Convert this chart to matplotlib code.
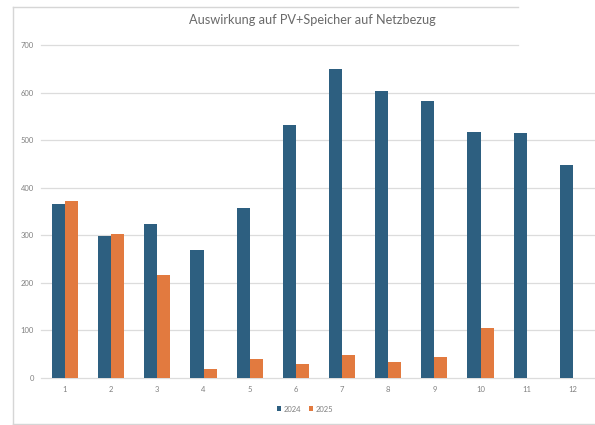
import matplotlib.pyplot as plt
from matplotlib.lines import Line2D
import numpy as np

monate = [str(m) for m in range(1, 13)]
netzbezug_2024 = [365, 298, 323, 269, 357, 532, 650, 604, 583, 517, 515, 447]
netzbezug_2025 = [373, 302, 216, 18, 40, 30, 48, 34, 45, 105, 0, 0]
y_ticks = [0, 100, 200, 300, 400, 500, 600, 700]

blau = "#2d5f80"
orange = "#e27a3f"
grau = "#808080"

plt.rcParams['font.family'] = ['Lato', 'DejaVu Sans']

fig = plt.figure(figsize=(5.95, 4.25), dpi=100)
ax = fig.add_axes([41 / 595, 47 / 425, 554 / 595, 333 / 425])

x = np.arange(len(monate))
w = 0.285
ax.bar(x - w / 2, netzbezug_2024, w, color=blau, label="2024", zorder=3)
ax.bar(x + w / 2, netzbezug_2025, w, color=orange, label="2025", zorder=3)

ax.set_xlim(-0.52, 11.48)
ax.set_ylim(0, 700)
ax.set_yticks(y_ticks)
ax.set_xticks(x)
ax.set_xticklabels(monate)

# Gitternetz, die oberste Linie ist kürzer
for t in y_ticks:
    xmax = (518 - 41) / 554 if t == 700 else 1.0
    ax.axhline(t, xmin=0, xmax=xmax, color="#dcdcdc", lw=0.9, zorder=1, clip_on=False)

for s in ax.spines.values():
    s.set_visible(False)
ax.tick_params(length=0, labelsize=5.5, labelcolor=grau)
ax.tick_params(axis="y", pad=5)
ax.tick_params(axis="x", pad=6)

fig.text(312 / 595, 1 - 20 / 425, "Auswirkung auf PV+Speicher auf Netzbezug",
         ha="center", va="center", fontsize=9.2, color="#6a6a6a")

fig.legend(loc="center", bbox_to_anchor=(305 / 595, 1 - 409 / 425), ncol=2,
           frameon=False, fontsize=5.5, labelcolor=grau, handlelength=0.6,
           handleheight=0.6, handletextpad=0.3, columnspacing=1.0)

# Rahmen des Diagrammbereichs
rahmen = "#d6d6d6"
fig.add_artist(Line2D([13 / 595, 13 / 595], [1 - 7 / 425, 1 - 424 / 425], color=rahmen, lw=1))
fig.add_artist(Line2D([13 / 595, 518 / 595], [1 - 7 / 425, 1 - 7 / 425], color=rahmen, lw=1))
fig.add_artist(Line2D([13 / 595, 1.0], [1 - 424 / 425, 1 - 424 / 425], color=rahmen, lw=1))

fig.savefig("out.png", dpi=100)
